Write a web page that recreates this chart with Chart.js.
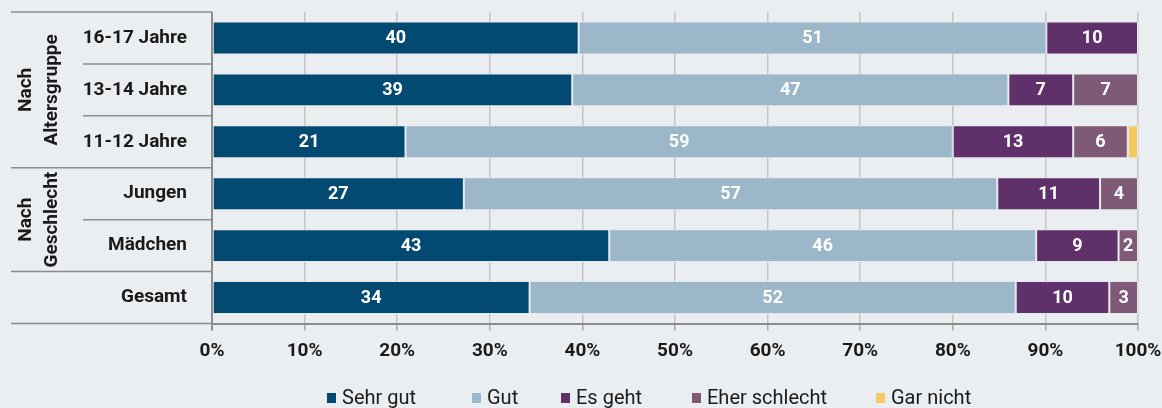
<!DOCTYPE html>
<html><head><meta charset="utf-8">
<script src="https://cdn.jsdelivr.net/npm/chart.js@4/dist/chart.umd.min.js"></script>
<style>
html,body{margin:0;padding:0;background:#ebeef1;}
#wrap{position:relative;width:1162px;height:408px;}
#legend{position:absolute;left:0;top:0;width:1162px;height:408px;pointer-events:none;
 font-family:"Roboto","Noto Sans",sans-serif;font-size:20px;color:#1a1a1a;}
#legend span.i{position:absolute;top:385px;display:flex;align-items:center;white-space:nowrap;line-height:24px;}
#legend span.b{display:inline-block;width:9px;height:10px;margin-right:6px;margin-top:1px;}
</style></head>
<body><div id="wrap"><canvas id="c" width="1162" height="408"></canvas><div id="legend"></div></div>
<script>
const categories = ['16-17 Jahre','13-14 Jahre','11-12 Jahre','Jungen','Mädchen','Gesamt'];
const seriesNames = ['Sehr gut','Gut','Es geht','Eher schlecht','Gar nicht'];
const seriesColors = ['#034a72','#9bb7c9','#60306b','#7f5a77','#f6c965'];
const sehrGut     = [39.6, 38.9, 20.9, 27.2, 42.9, 34.3];
const gut         = [50.5, 47.1, 59.1, 57.6, 46.1, 52.5];
const esGeht      = [9.9, 7.0, 13.0, 11.1, 8.9, 10.1];
const eherSchlecht= [0, 7.0, 5.9, 4.1, 2.1, 3.1];
const garNicht    = [0, 0, 1.1, 0, 0, 0];
const sehrGutLbl  = [40, 39, 21, 27, 43, 34];
const gutLbl      = [51, 47, 59, 57, 46, 52];
const esGehtLbl   = [10, 7, 13, 11, 9, 10];
const eherLbl     = [null, 7, 6, 4, 2, 3];
const garLbl      = [null, null, null, null, null, null];
const xTicks = [0,10,20,30,40,50,60,70,80,90,100];
const groups = [
  {lines:['Nach','Altersgruppe'], from:0, to:2},
  {lines:['Nach','Geschlecht'], from:3, to:4}
];

const values = [sehrGut, gut, esGeht, eherSchlecht, garNicht];
const lbls = [sehrGutLbl, gutLbl, esGehtLbl, eherLbl, garLbl];
const FONT = '"Roboto","Noto Sans",sans-serif';
const legendLeft = [327, 472, 561, 692, 876];

const lg = document.getElementById('legend');
seriesNames.forEach((n,i)=>{
  const s=document.createElement('span');s.className='i';s.style.left=legendLeft[i]+'px';
  s.innerHTML='<span class="b" style="background:'+seriesColors[i]+'"></span>'+n;
  lg.appendChild(s);
});

const labelPlugin = {
  id:'seglabels',
  afterDatasetsDraw(chart){
    const ctx=chart.ctx;
    ctx.save();
    ctx.fillStyle='#ffffff';
    ctx.font='bold 18px '+FONT;
    ctx.textAlign='center';ctx.textBaseline='middle';
    chart.data.datasets.forEach((ds,di)=>{
      const meta=chart.getDatasetMeta(di);
      meta.data.forEach((el,i)=>{
        const l=lbls[di][i];
        if(l===null||l===undefined) return;
        ctx.fillText(String(l),(el.x+el.base)/2,el.y+1);
      });
    });
    ctx.restore();
  }
};

const framePlugin = {
  id:'frame',
  beforeDatasetsDraw(chart){
    const ctx=chart.ctx, y=chart.scales.y, ca=chart.chartArea;
    const n=categories.length;
    const step=(y.getPixelForValue(1)-y.getPixelForValue(0));
    const bounds=[];
    for(let i=0;i<=n;i++){ bounds.push(y.getPixelForValue(0)-step/2+i*step); }
    const full=new Set([0,n]);
    groups.forEach(g=>{full.add(g.from);full.add(g.to+1);});
    ctx.save();
    ctx.strokeStyle='#8c8c8c';ctx.lineWidth=1.5;
    bounds.forEach((by,i)=>{
      ctx.beginPath();
      ctx.moveTo(full.has(i)?11:83,by);ctx.lineTo(ca.left,by);ctx.stroke();
    });
    ctx.lineWidth=2;
    ctx.beginPath();ctx.moveTo(ca.left,ca.top);ctx.lineTo(ca.left,ca.bottom+7);ctx.stroke();
    ctx.fillStyle='#1a1a1a';
    ctx.font='bold 19px '+FONT;
    ctx.textAlign='center';ctx.textBaseline='middle';
    groups.forEach(g=>{
      const cy=(bounds[g.from]+bounds[g.to+1])/2;
      g.lines.forEach((t,k)=>{
        ctx.save();ctx.translate(26+k*26,cy);ctx.rotate(-Math.PI/2);ctx.fillText(t,0,0);ctx.restore();
      });
    });
    ctx.restore();
  }
};

new Chart(document.getElementById('c'),{
  type:'bar',
  data:{
    labels:categories,
    datasets:seriesNames.map((n,i)=>({
      label:n,data:values[i],backgroundColor:seriesColors[i],
      borderColor:'#e4e9ee',borderWidth:1,borderSkipped:false,
      barPercentage:0.635,categoryPercentage:1
    }))
  },
  options:{
    indexAxis:'y',responsive:false,animation:false,
    layout:{padding:{top:12,left:0,right:24,bottom:44.5}},
    plugins:{legend:{display:false},tooltip:{enabled:false}},
    scales:{
      x:{stacked:true,min:0,max:100,
        afterBuildTicks(s){s.ticks=xTicks.map(v=>({value:v}));},
        afterFit(s){s.height=40;s.paddingLeft=0;s.paddingRight=0;},
        grid:{color:'#c4c4c4',lineWidth:1.5,tickLength:7,tickColor:'#a8a8a8',drawOnChartArea:true},
        border:{display:true,color:'#8c8c8c',width:2},
        ticks:{padding:9,color:'#1a1a1a',font:{family:FONT,weight:'bold',size:19},
          maxRotation:0,callback:v=>v+'%'}
      },
      y:{stacked:true,
        afterFit(s){s.width=212;s.paddingTop=0;s.paddingBottom=0;},
        grid:{display:false,drawTicks:false},
        border:{display:false},
        ticks:{padding:25,color:'#1a1a1a',font:{family:FONT,weight:'bold',size:19}}
      }
    }
  },
  plugins:[framePlugin,labelPlugin]
});
</script></body></html>
